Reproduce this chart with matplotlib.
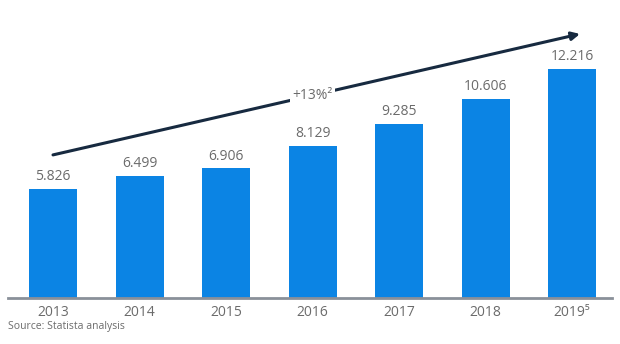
import matplotlib.pyplot as plt
import numpy as np

plt.rcParams['font.family'] = ['Open Sans', 'DejaVu Sans']

years = ['2013', '2014', '2015', '2016', '2017', '2018', '2019\u2075']
values = [5.826, 6.499, 6.906, 8.129, 9.285, 10.606, 12.216]
labels = ['5.826', '6.499', '6.906', '8.129', '9.285', '10.606', '12.216']

fig = plt.figure(figsize=(6.2, 3.44), dpi=100)
ax = fig.add_axes([8/620, 46/344, 604/620, 298/344])

x = np.arange(len(years))
ax.bar(x, values, width=0.555, color='#0b84e4', zorder=2)
for xi, v, lab in zip(x, values, labels):
    ax.text(xi, v + 0.25, lab, ha='center', va='bottom', fontsize=10, color='#6b6b6b')

ax.set_xlim(-0.52, 6.46)
ax.set_ylim(0, 15.89)
for s in ['top', 'right', 'left']:
    ax.spines[s].set_visible(False)
ax.spines['bottom'].set_color('#8a9099')
ax.spines['bottom'].set_linewidth(2)
ax.set_yticks([])
ax.set_xticks(x)
ax.set_xticklabels(years, fontsize=10, color='#6b6b6b')
ax.tick_params(axis='x', length=0, pad=5)

# growth arrow
ax.annotate('', xy=(6.09, 14.08), xytext=(0.0, 7.63),
            arrowprops=dict(arrowstyle='-|>', color='#172a40', lw=2.2,
                            mutation_scale=12, shrinkA=0, shrinkB=0))
ax.text(3.0, 10.8, '+13%\u00b2', ha='center', va='center', fontsize=10,
        color='#6b6b6b', bbox=dict(facecolor='white', edgecolor='none', pad=2), zorder=5)

fig.text(8/620, 1 - 326/344, 'Source: Statista analysis', fontsize=7.5,
         color='#6b6b6b', ha='left', va='center')

fig.savefig('out.png', dpi=100)
